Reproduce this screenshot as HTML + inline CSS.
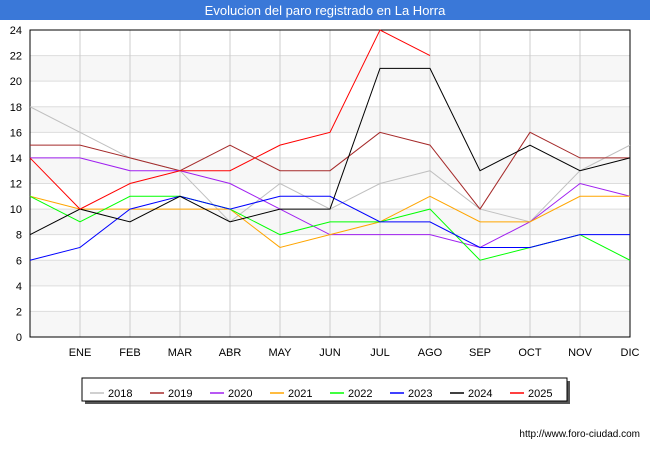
<!DOCTYPE html>
<html><head><meta charset="utf-8"><style>
body{margin:0;background:#fff;font-family:"Liberation Sans",sans-serif}
</style></head><body>
<svg id="c" width="650" height="450" xmlns="http://www.w3.org/2000/svg">
<rect x="0" y="0" width="650" height="20" fill="#3a78d8"/>
<text x="325" y="15" font-size="13" fill="#fff" text-anchor="middle">Evolucion del paro registrado en La Horra</text>
<g id="grid"></g><g id="lines"></g>
<text x="640" y="437" font-size="10" fill="#000" text-anchor="end">http://www.foro-ciudad.com</text>
</svg>
<script>
const months=["","ENE","FEB","MAR","ABR","MAY","JUN","JUL","AGO","SEP","OCT","NOV","DIC"];
const yTicks=[0,2,4,6,8,10,12,14,16,18,20,22,24];
const seriesNames=["2018","2019","2020","2021","2022","2023","2024","2025"];
const seriesColors=["#c0c0c0","#a52a2a","#a020f0","#ffa500","#00ff00","#0000ff","#000000","#ff0000"];
const s2018=[18,16,14,13,9,12,10,12,13,10,9,13,15];
const s2019=[15,15,14,13,15,13,13,16,15,10,16,14,14];
const s2020=[14,14,13,13,12,10,8,8,8,7,9,12,11];
const s2021=[11,10,10,10,10,7,8,9,11,9,9,11,11];
const s2022=[11,9,11,11,10,8,9,9,10,6,7,8,6];
const s2023=[6,7,10,11,10,11,11,9,9,7,7,8,8];
const s2024=[8,10,9,11,9,10,10,21,21,13,15,13,14];
const s2025=[14,10,12,13,13,15,16,24,22];
const allSeries=[s2018,s2019,s2020,s2021,s2022,s2023,s2024,s2025];
const X0=30,X1=630,Y0=337,Y1=30;
const xs=i=>X0+i*(X1-X0)/12;
const ys=v=>Y0-v*(Y0-Y1)/24;
const NS="http://www.w3.org/2000/svg";
function mk(t,a,p){const e=document.createElementNS(NS,t);for(const k in a)e.setAttribute(k,a[k]);p.appendChild(e);return e;}
const g=document.getElementById('grid'),L=document.getElementById('lines'),svg=document.getElementById('c');
for(let k=0;k<12;k++){if(k%2==0){const r=mk('rect',{x:X0,y:ys(2*k+2),width:X1-X0,height:ys(2*k)-ys(2*k+2),fill:k%2==0?'#f7f7f7':'#fff'},g);

}}
yTicks.forEach(v=>{const l=mk('line',{x1:X0,x2:X1,y1:ys(v),y2:ys(v),stroke:'#ddd'},g);


const t=mk('text',{x:X0-8,y:ys(v)+4,'font-size':11,'text-anchor':'end'},g);t.textContent=v;

});
months.forEach((m,i)=>{if(i>0){const l=mk('line',{x1:xs(i),x2:xs(i),y1:Y1,y2:Y0,stroke:'#ccc'},g);

}
const t=mk('text',{x:xs(i),y:356,'font-size':11,'text-anchor':'middle'},g);t.textContent=m;

});
const fr=mk('rect',{x:X0,y:Y1,width:X1-X0,height:Y0-Y1,fill:'none',stroke:'#000'},g);


allSeries.forEach((s,j)=>{const p=mk('polyline',{points:s.map((v,i)=>xs(i)+','+ys(v)).join(' '),fill:'none',stroke:seriesColors[j],'stroke-width':1},L);

});
const lg=mk('g',{},svg);


mk('rect',{x:85,y:381,width:485,height:23,fill:'#555'},lg);
mk('rect',{x:82,y:378,width:485,height:23,fill:'#fff',stroke:'#000'},lg);
seriesNames.forEach((n,j)=>{const x=90+j*60;
const e=mk('g',{},lg);


mk('line',{x1:x,x2:x+14,y1:393,y2:393,stroke:seriesColors[j],'stroke-width':1.5},e);
const t=mk('text',{x:x+18,y:397,'font-size':11},e);t.textContent=n;});
</script>
</body></html>
